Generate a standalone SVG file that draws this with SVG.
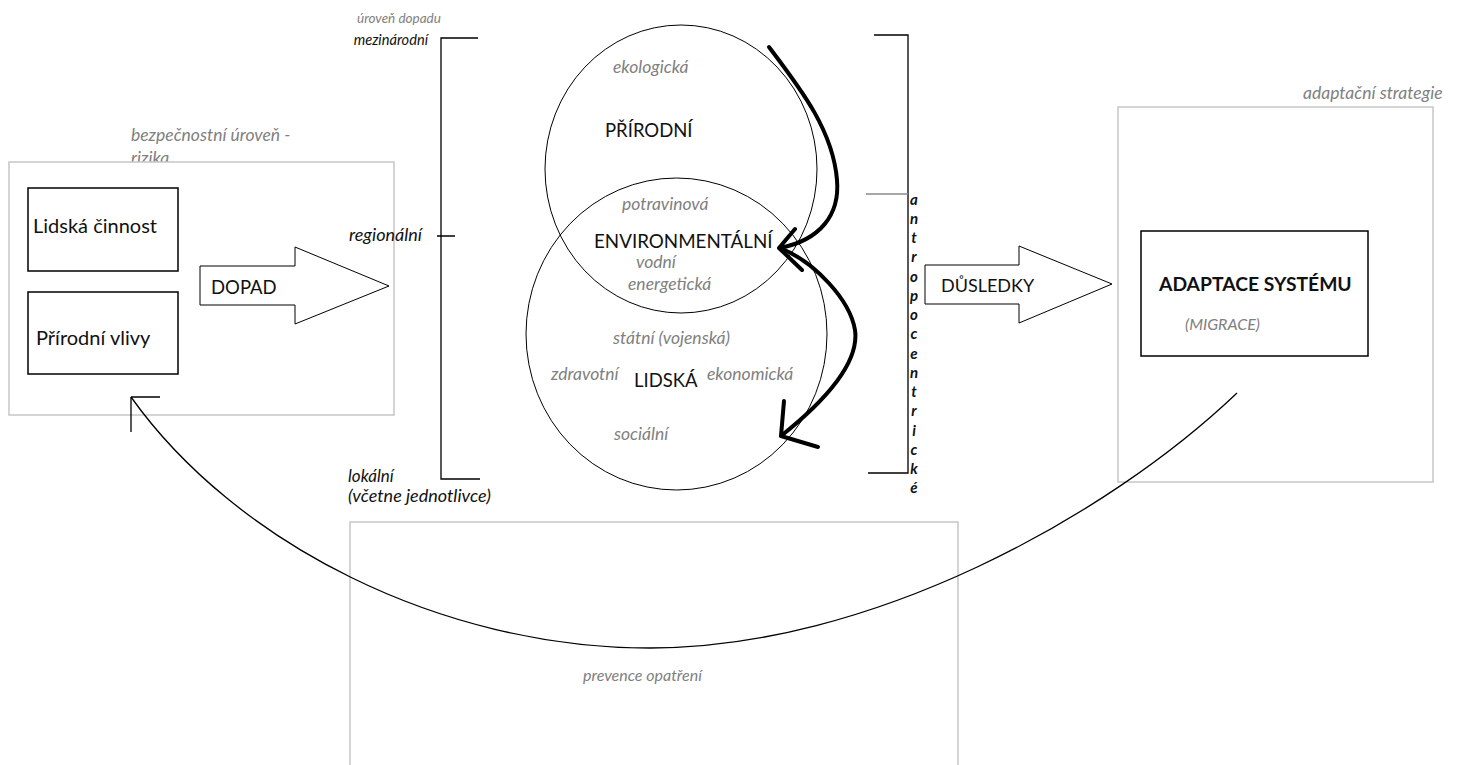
<svg xmlns="http://www.w3.org/2000/svg" width="1458" height="765" viewBox="0 0 1458 765">
  <style>
    text { font-family: Lato, "Open Sans", "Liberation Sans", sans-serif; }
    .frame { fill: #ffffff; stroke: #c6c6c6; stroke-width: 1.5; }
    .box { fill: #ffffff; stroke: #000000; stroke-width: 1.5; }
    .ring { fill: none; stroke: #000000; stroke-width: 1; }
    .line { fill: none; stroke: #000000; stroke-width: 1.3; }
    .thick { fill: none; stroke: #000000; stroke-width: 4; stroke-linecap: round; stroke-linejoin: round; }
    .block { fill: #ffffff; stroke: #000000; stroke-width: 1; }
    .lbl { font-size: 20px; fill: #111111; }
    .caps { font-size: 18.5px; fill: #111111; }
    .note { font-size: 17.5px; font-style: italic; fill: #808080; }
    .lvl { font-size: 18px; font-style: italic; fill: #111111; }
    .vert { font-size: 15px; font-style: italic; font-weight: bold; fill: #111111; text-anchor: middle; }
  </style>

  <!-- security level frame with sources of impact -->
  <g id="risk-level">
    <text class="note" x="131" y="141">bezpečnostní úroveň -</text>
    <text class="note" x="131" y="164">rizika</text>
    <rect class="frame" x="9" y="162" width="385" height="253"/>
  </g>
  <g id="human-activity">
    <rect class="box" x="28" y="188" width="150" height="83"/>
    <text class="lbl" x="33" y="233">Lidská činnost</text>
  </g>
  <g id="natural-influences">
    <rect class="box" x="28" y="292" width="150" height="82"/>
    <text class="lbl" x="36" y="345">Přírodní vlivy</text>
  </g>

  <!-- impact level scale -->
  <g id="impact-scale">
    <text class="note" x="357" y="23" style="font-size:13.5px">úroveň dopadu</text>
    <text class="lvl" x="428" y="45" style="font-size:14.6px" text-anchor="end">mezinárodní</text>
    <text class="lvl" x="422" y="241" text-anchor="end">regionální</text>
    <text class="lvl" x="348" y="482" style="font-size:17px">lokální</text>
    <text class="lvl" x="348" y="502">(včetne jednotlivce)</text>
    <path class="line" d="M478,38 H441 V479 H480 M437,236 H455"/>
  </g>

  <!-- security areas -->
  <g id="natural-area">
    <ellipse class="ring" cx="681" cy="169" rx="136" ry="144"/>
    <text class="note" x="613" y="73">ekologická</text>
    <text class="caps" x="605" y="137">PŘÍRODNÍ</text>
  </g>
  <g id="human-area">
    <ellipse class="ring" cx="676.5" cy="334" rx="150.5" ry="156"/>
    <text class="note" x="613" y="344">státní (vojenská)</text>
    <text class="note" x="551" y="380">zdravotní</text>
    <text class="caps" x="634" y="387">LIDSKÁ</text>
    <text class="note" x="707" y="380">ekonomická</text>
    <text class="note" x="614" y="440">sociální</text>
  </g>
  <g id="environmental-area">
    <text class="note" x="622" y="210">potravinová</text>
    <text class="caps" x="594" y="248" style="font-size:18.8px">ENVIRONMENTÁLNÍ</text>
    <text class="note" x="636" y="268">vodní</text>
    <text class="note" x="628" y="290">energetická</text>
  </g>

  <!-- anthropocentric bracket -->
  <g id="anthropocentric">
    <path class="line" d="M874,35 H908 V473 H868"/>
    <path d="M866,194 H908" fill="none" stroke="#8a8a8a" stroke-width="1.3"/>
    <text class="vert" x="914" y="205">a</text>
    <text class="vert" x="914" y="224">n</text>
    <text class="vert" x="914" y="243">t</text>
    <text class="vert" x="914" y="262">r</text>
    <text class="vert" x="914" y="282">o</text>
    <text class="vert" x="914" y="301">p</text>
    <text class="vert" x="914" y="320">o</text>
    <text class="vert" x="914" y="339">c</text>
    <text class="vert" x="914" y="359">e</text>
    <text class="vert" x="914" y="378">n</text>
    <text class="vert" x="914" y="397">t</text>
    <text class="vert" x="914" y="416">r</text>
    <text class="vert" x="914" y="436">i</text>
    <text class="vert" x="914" y="455">c</text>
    <text class="vert" x="914" y="474">k</text>
    <text class="vert" x="914" y="493">é</text>
  </g>

  <!-- adaptation strategy -->
  <g id="adaptation-strategy">
    <text class="note" x="1303" y="99">adaptační strategie</text>
    <rect class="frame" x="1118" y="107" width="315" height="375"/>
  </g>
  <g id="system-adaptation">
    <rect class="box" x="1141" y="231" width="227" height="125"/>
    <text class="caps" x="1159" y="291" style="font-size:19.3px;font-weight:bold">ADAPTACE SYSTÉMU</text>
    <text class="note" x="1185" y="330" style="font-size:16px">(MIGRACE)</text>
  </g>

  <!-- prevention -->
  <g id="prevention">
    <path d="M350,765 V522 H958 V765" fill="none" stroke="#c6c6c6" stroke-width="1.5"/>
    <text class="note" x="583" y="681" style="font-size:16px">prevence opatření</text>
  </g>

  <g id="connectors">
    <!-- impact -->
    <g id="impact-arrow">
      <polygon class="block" points="200,266 295,266 295,247 389,286 295,324 295,305 200,305"/>
      <text class="caps" x="211" y="294">DOPAD</text>
    </g>
    <!-- consequences -->
    <g id="consequence-arrow">
      <polygon class="block" points="925,265 1019,265 1019,246 1112,284 1019,323 1019,304 925,304"/>
      <text class="caps" x="941" y="292" style="font-size:18px">DŮSLEDKY</text>
    </g>
    <!-- natural -> environmental -->
    <path class="thick" d="M769,47 C800,88 833,130 837,180 C840,215 820,240 780,248"/>
    <path class="thick" d="M795,229 L779,248 L802,270"/>
    <!-- environmental -> human -->
    <path class="thick" d="M780,248 C815,262 850,300 855,330 C860,365 820,405 781,436"/>
    <path class="thick" d="M784,401 L781,436 L818,447"/>
    <!-- feedback from adaptation back to sources -->
    <path class="line" stroke-width="1.2" d="M1237,393 C1107,517 870,648 650,648 C440,648 235,543 131,397"/>
    <path class="line" d="M131,397 H160 M131,397 V432"/>
  </g>
</svg>
